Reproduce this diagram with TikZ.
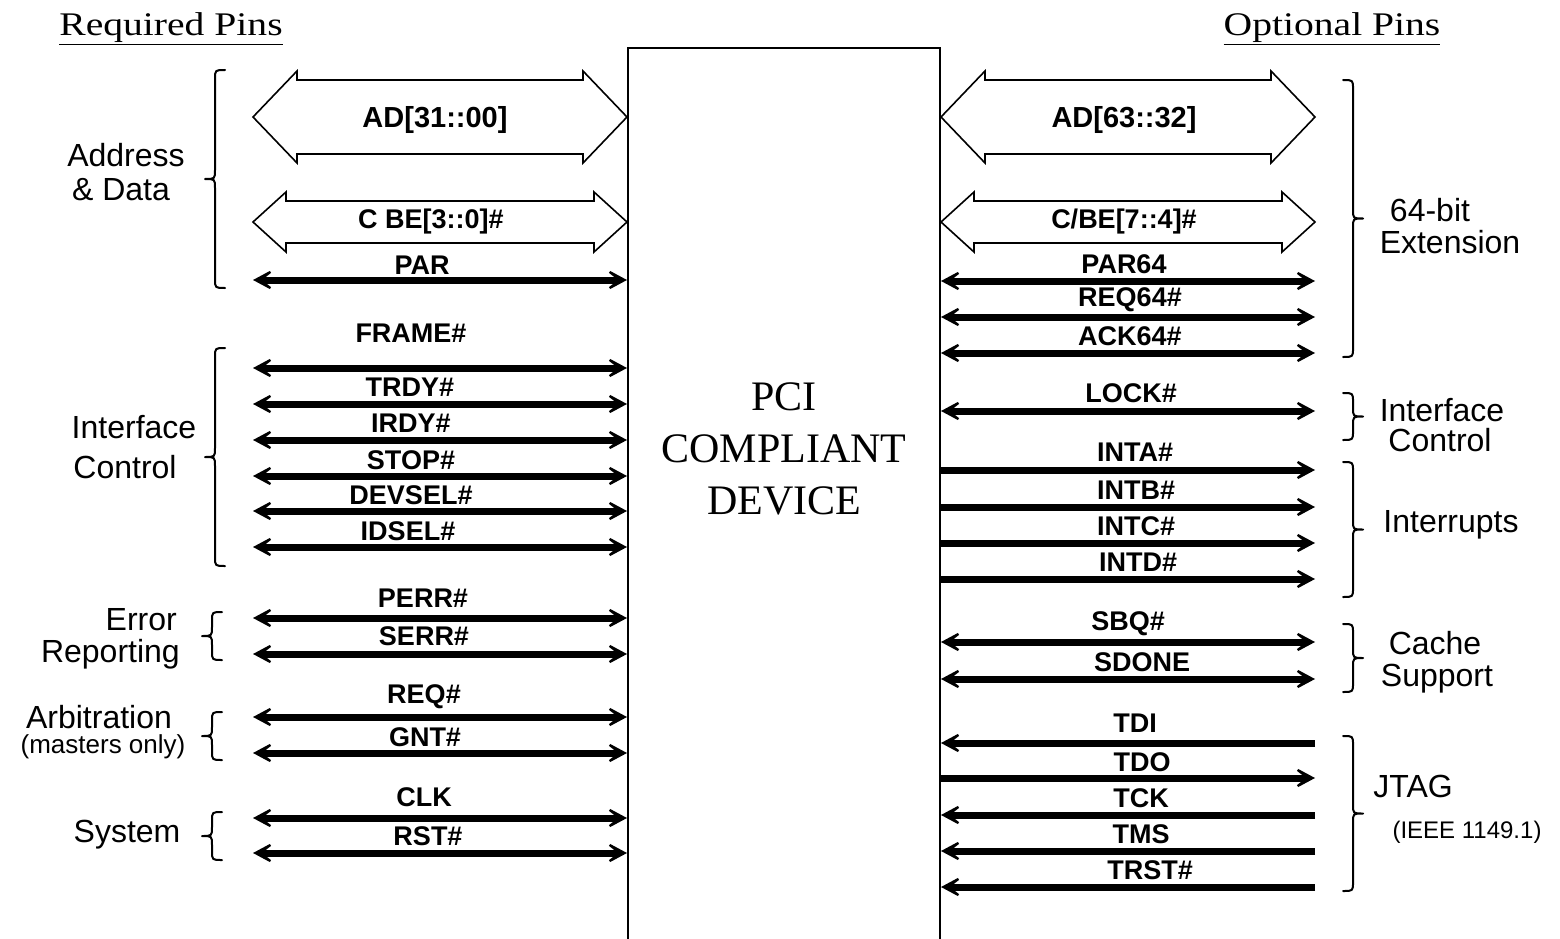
\documentclass[tikz,border=0pt]{standalone}
\usepackage{fontspec}
\setmainfont{Liberation Sans}
\newfontfamily\serifface{Liberation Serif}
\usetikzlibrary{arrows.meta}
\tikzset{
  pintip/.tip={Stealth[length=28pt,width=30pt,inset=19pt]},
  bidir/.style={line width=7pt, arrows={pintip-pintip}},
  onedir/.style={line width=7pt, arrows={-pintip}},
  bus/.style={draw, line width=1.6pt, fill=white, line join=miter},
  lab/.style={font=\bfseries\fontsize{27}{27}\selectfont, inner sep=0pt},
  buslab/.style={font=\bfseries\fontsize{29}{29}\selectfont, inner sep=0pt},
  grp/.style={font=\fontsize{32}{32}\selectfont, inner sep=0pt},
  grpsmall/.style={font=\fontsize{26}{26}\selectfont, inner sep=0pt},
  head/.style={font=\serifface\fontsize{33}{33}\selectfont, xscale=1.2, transform shape, inner sep=0pt, anchor=base},
  brc/.style={line width=2pt, line cap=round, line join=round},
}
\newcommand\busarrow[6]{% x1 x2 y h H L
  \draw[bus] (#1,#3) -- ({#1+#6},{#3-#5}) -- ({#1+#6},{#3-#4}) -- ({#2-#6},{#3-#4}) -- ({#2-#6},{#3-#5}) -- (#2,#3)
    -- ({#2-#6},{#3+#5}) -- ({#2-#6},{#3+#4}) -- ({#1+#6},{#3+#4}) -- ({#1+#6},{#3+#5}) -- cycle;}
\newcommand\curlybrc[4]{% spine x, top y, bottom y, dx
  \draw[brc] ({#1+#4},#2) .. controls (#1,#2) .. (#1,{#2+9}) -- (#1,{(#2+#3)/2-9})
    .. controls (#1,{(#2+#3)/2}) .. ({#1-#4},{(#2+#3)/2})
    .. controls (#1,{(#2+#3)/2}) .. (#1,{(#2+#3)/2+9}) -- (#1,{#3-9})
    .. controls (#1,#3) .. ({#1+#4},#3);}
\begin{document}
\begin{tikzpicture}[x=1pt,y=-1pt]
\useasboundingbox[fill=white] (0,0) rectangle (1560,939);

% device box (open at the bottom of the picture)
\node[draw, line width=2pt, minimum width=312pt, minimum height=930pt, anchor=north, inner sep=0pt] (dev) at (784,47) {};
\node[font=\serifface\fontsize{42}{52}\selectfont, align=center, inner sep=0pt] (pci) at (784,449) {PCI\\COMPLIANT\\DEVICE};

% headings
\node[head] (req) at (171,36) {\underline{Required Pins}};
\node[head] (opt) at (1332,36) {\underline{Optional Pins}};

% bus arrows
\busarrow{253}{627}{117}{37}{46}{44}
\node[buslab] (tAD0) at (435,120) {AD[31::00]};
\busarrow{253}{627}{222}{21}{30}{33}
\node[lab] (tCBE0) at (431,222) {C BE[3::0]\#};
\busarrow{941}{1315}{117}{37}{46}{44}
\node[buslab] (tAD1) at (1124,120) {AD[63::32]};
\busarrow{941}{1315}{222}{21}{30}{33}
\node[lab] (tCBE1) at (1124,222) {C/BE[7::4]\#};

% left signals
\foreach \nm/\txt/\lx/\ly/\ay in {
  PAR/PAR/422/265/280, FRAME/FRAME\#/411/333/368, TRDY/TRDY\#/410/387/404,
  IRDY/IRDY\#/411/423/440, STOP/STOP\#/411/460/476, DEVSEL/DEVSEL\#/411/495/511,
  IDSEL/IDSEL\#/408/531/547, PERR/PERR\#/423/598/618, SERR/SERR\#/424/636/654,
  REQ/REQ\#/424/697/717, GNT/GNT\#/425/737/753, CLK/CLK/424/797/818, RST/RST\#/428/836/853}{
  \node[lab] (t\nm) at (\lx,\ly) {\txt};
  \coordinate (e\nm) at (253,\ay);
  \draw[bidir] (e\nm) -- (e\nm -| dev.west);
}

% right signals, both directions
\foreach \nm/\txt/\lx/\ly/\ay in {
  PARsf/PAR64/1124/264/281, REQsf/REQ64\#/1130/300/317, ACKsf/ACK64\#/1130/336/353,
  LOCK/LOCK\#/1131/393/411, SBQ/SBQ\#/1128/624/642, SDONE/SDONE/1142/662/679}{
  \node[lab] (t\nm) at (\lx,\ly) {\txt};
  \coordinate (e\nm) at (1315,\ay);
  \draw[bidir] (e\nm -| dev.east) -- (e\nm);
}
% right signals, outputs
\foreach \nm/\txt/\lx/\ly/\ay in {
  INTA/INTA\#/1135/452/470, INTB/INTB\#/1136/490/507, INTC/INTC\#/1136/526/543,
  INTD/INTD\#/1138/562/579, TDO/TDO/1142/762/778}{
  \node[lab] (t\nm) at (\lx,\ly) {\txt};
  \coordinate (e\nm) at (1315,\ay);
  \draw[onedir] (e\nm -| dev.east) -- (e\nm);
}
% right signals, inputs
\foreach \nm/\txt/\lx/\ly/\ay in {
  TDI/TDI/1135/723/743, TCK/TCK/1141/798/815, TMS/TMS/1141/834/851, TRST/TRST\#/1150/870/887}{
  \node[lab] (t\nm) at (\lx,\ly) {\txt};
  \coordinate (e\nm) at (1315,\ay);
  \draw[onedir] (e\nm) -- (e\nm -| dev.east);
}

% braces, left
\curlybrc{215}{70}{288}{10}
\curlybrc{215}{348}{566}{10}
\curlybrc{212}{612}{660}{10}
\curlybrc{212}{712}{760}{10}
\curlybrc{212}{812}{860}{10}
% braces, right
\curlybrc{1353}{80}{357}{-10}
\curlybrc{1353}{393}{440}{-10}
\curlybrc{1353}{462}{597}{-10}
\curlybrc{1353}{624}{692}{-10}
\curlybrc{1353}{736}{891}{-10}

% group labels, left
\node[grp] (gAD1) at (126,155) {Address};
\node[grp] (gAD2) at (121,190) {\& Data};
\node[grp] (gIC1) at (134,427) {Interface};
\node[grp] (gIC2) at (125,467) {Control};
\node[grp, anchor=east] (gER1) at (177,620) {Error};
\node[grp, anchor=east] (gER2) at (180,654) {Reporting};
\node[grp] (gAR1) at (99,717) {Arbitration};
\node[grpsmall] (gAR2) at (103,747) {(masters only)};
\node[grp] (gSY) at (127,835) {System};
% group labels, right
\node[grp] (g64a) at (1430,210) {64-bit};
\node[grp] (g64b) at (1450,242) {Extension};
\node[grp] (gRI1) at (1442,410) {Interface};
\node[grp] (gRI2) at (1440,440) {Control};
\node[grp] (gINT) at (1451,525) {Interrupts};
\node[grp] (gCS1) at (1435,643) {Cache};
\node[grp] (gCS2) at (1437,679) {Support};
\node[grp] (gJT1) at (1413,786) {JTAG};
\node[grpsmall, font=\fontsize{24}{24}\selectfont] (gJT2) at (1467,832) {(IEEE 1149.1)};
\end{tikzpicture}
\end{document}
